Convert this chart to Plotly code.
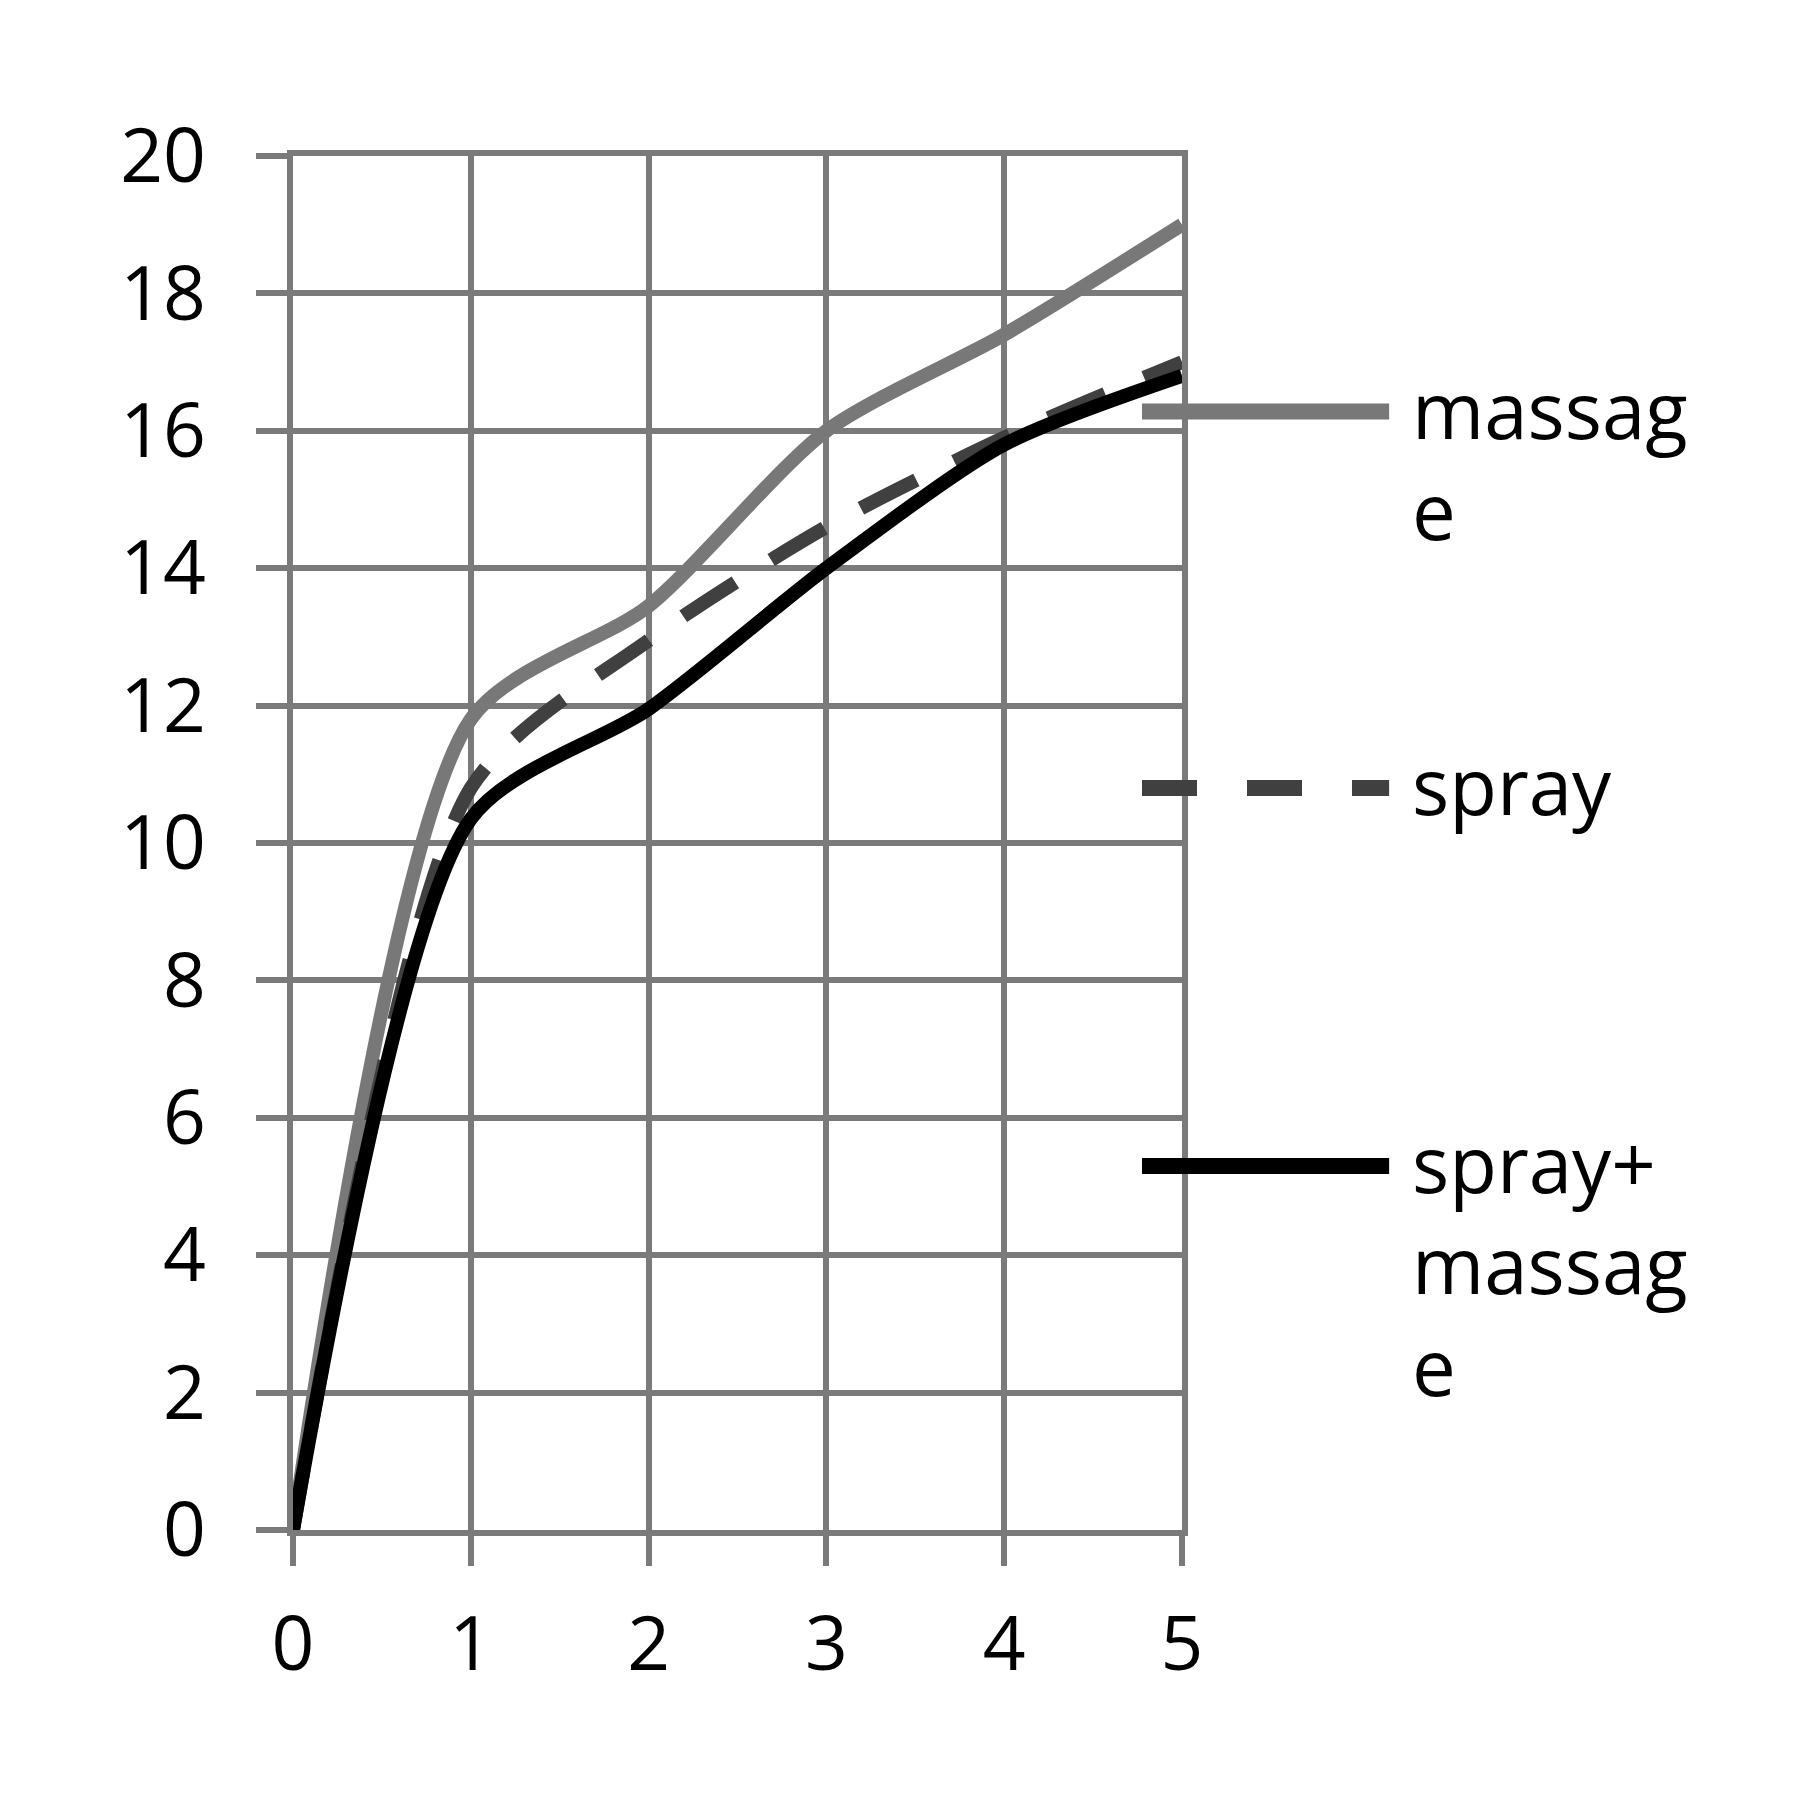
import plotly.graph_objects as go

# time points and series values
x_vals = [0, 1, 2, 3, 4, 5]
massage = [0, 11.8, 13.45, 16.0, 17.4, 19.0]
spray = [0, 10.8, 12.95, 14.6, 15.9, 17.0]
spray_massage = [0, 10.35, 11.95, 14.0, 15.8, 16.8]

legend_names = ["massag<br>e", "spray", "spray+<br>massag<br>e"]

GRID = "#7a7a7a"
FONT = "Open Sans, Lato, sans-serif"
SMOOTH = 0.75

fig = go.Figure()

fig.add_trace(go.Scatter(x=x_vals, y=massage, mode="lines", name="massage",
                         line=dict(color="#787878", width=14, shape="spline", smoothing=SMOOTH)))
fig.add_trace(go.Scatter(x=x_vals, y=spray, mode="lines", name="spray",
                         line=dict(color="#404040", width=14, shape="spline", smoothing=SMOOTH,
                                   dash="62px,42px")))
fig.add_trace(go.Scatter(x=x_vals, y=spray_massage, mode="lines", name="spray+massage",
                         line=dict(color="#000000", width=14, shape="spline", smoothing=SMOOTH)))

# hand-made legend to the right (long line samples, wrapped names like the original)
leg_y = [0.814, 0.540, 0.265]
leg_style = [dict(color="#787878", width=16),
             dict(color="#404040", width=16, dash="55px,50px"),
             dict(color="#000000", width=16)]
shapes = []
annotations = []
for name, yy, st in zip(legend_names, leg_y, leg_style):
    shapes.append(dict(type="line", xref="paper", yref="paper",
                       x0=0.955, x1=1.233, y0=yy, y1=yy, line=st))
    annotations.append(dict(xref="paper", yref="paper", x=1.257, y=yy + 0.042,
                            xanchor="left", yanchor="top", align="left",
                            text=name, showarrow=False,
                            font=dict(family=FONT, size=78, color="#000000")))

fig.update_layout(
    width=1800, height=1800,
    paper_bgcolor="white", plot_bgcolor="white",
    showlegend=False,
    margin=dict(l=285, r=626, t=148, b=278),
    font=dict(family=FONT, color="#000000"),
    shapes=shapes,
    annotations=annotations,
)

fig.update_xaxes(range=[0, 5], dtick=1, tick0=0,
                 showgrid=True, gridcolor=GRID, gridwidth=6,
                 zeroline=False, showline=True, linecolor=GRID, linewidth=6, mirror=True,
                 ticks="outside", ticklen=30, tickwidth=6, tickcolor=GRID,
                 ticklabelstandoff=14,
                 tickfont=dict(family=FONT, size=75, color="#000000"))
fig.update_yaxes(range=[0, 20], dtick=2, tick0=0,
                 showgrid=True, gridcolor=GRID, gridwidth=6,
                 zeroline=False, showline=True, linecolor=GRID, linewidth=6, mirror=True,
                 ticks="outside", ticklen=31, tickwidth=6, tickcolor=GRID,
                 ticklabelstandoff=35,
                 tickfont=dict(family=FONT, size=75, color="#000000"))

fig.write_html("out.html")
